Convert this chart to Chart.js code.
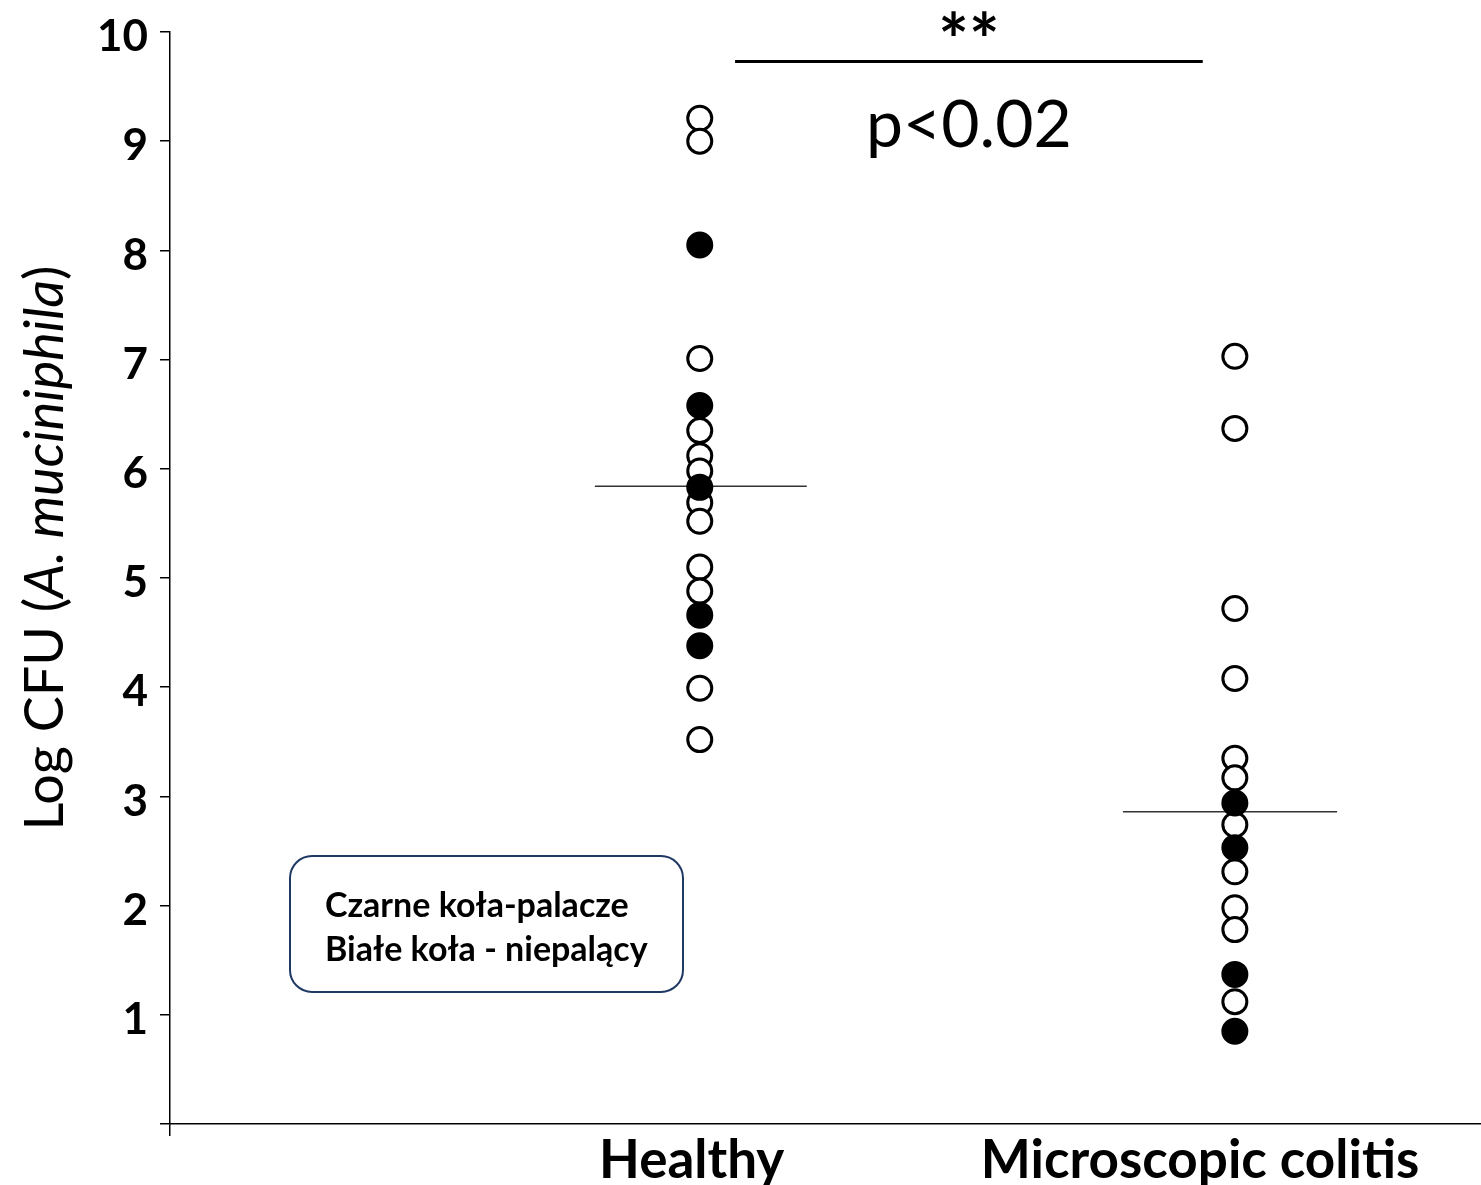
<!DOCTYPE html>
<html><head><meta charset="utf-8">
<script src="https://cdn.jsdelivr.net/npm/chart.js@4/dist/chart.umd.min.js"></script>
<style>html,body{margin:0;padding:0;background:#fff;}#wrap{width:1481px;height:1185px;position:relative;}</style>
</head><body><div id="wrap"><canvas id="c" width="1481" height="1185"></canvas></div>
<script>
// ---- data ----
const groups = ['Healthy', 'Microscopic colitis'];
const groupX = [1, 2];
const labelX = [0.985, 1.935];
const healthySmokers = [8.05, 6.58, 5.83, 4.66, 4.38];
const healthyNonSmokers = [9.21, 9.0, 7.01, 6.35, 6.12, 5.98, 5.69, 5.52, 5.10, 4.88, 3.99, 3.52];
const colitisSmokers = [2.94, 2.53, 1.37, 0.85];
const colitisNonSmokers = [7.03, 6.37, 4.72, 4.08, 3.35, 3.17, 2.74, 2.31, 1.98, 1.78, 1.12];
const medians = [5.84, 2.86];
const medianSpanHealthy = [0.804, 1.200];
const medianSpanColitis = [1.791, 2.191];
const sigBarX = [1.066, 1.94];
const sigBarY = 9.73;
const sigStars = '**';
const sigP = 'p<0.02';
const yTickValues = [0, 1, 2, 3, 4, 5, 6, 7, 8, 9, 10];
const legendLines = ['Czarne koła-palacze', 'Białe koła - niepalący'];
const yTitleParts = [['Log CFU (', 'normal'], ['A. muciniphila', 'italic'], [')', 'normal']];

const FONT = 'Lato, "Open Sans", sans-serif';
const pts = (x, arr) => arr.map(v => ({x: x, y: v}));

const pointCommon = {type: 'scatter', pointStyle: 'circle', pointRadius: 12, pointHoverRadius: 12, pointBorderWidth: 3, pointBorderColor: '#000'};

const datasets = [
  Object.assign({}, pointCommon, {label: 'H non', data: pts(groupX[0], healthyNonSmokers), pointBackgroundColor: '#fff', order: 3}),
  Object.assign({}, pointCommon, {label: 'C non', data: pts(groupX[1], colitisNonSmokers), pointBackgroundColor: '#fff', order: 3}),
  Object.assign({}, pointCommon, {label: 'H smk', data: pts(groupX[0], healthySmokers), pointBackgroundColor: '#000', order: 1}),
  Object.assign({}, pointCommon, {label: 'C smk', data: pts(groupX[1], colitisSmokers), pointBackgroundColor: '#000', order: 1}),
  {type: 'line', label: 'med H', data: medianSpanHealthy.map(x => ({x, y: medians[0]})), borderColor: '#333', borderWidth: 1.5, pointRadius: 0, order: 2},
  {type: 'line', label: 'med C', data: medianSpanColitis.map(x => ({x, y: medians[1]})), borderColor: '#333', borderWidth: 1.5, pointRadius: 0, order: 2},
  {type: 'line', label: 'sig', data: sigBarX.map(x => ({x, y: sigBarY})), borderColor: '#000', borderWidth: 3, pointRadius: 0, order: 2}
];

const extras = {
  id: 'extras',
  afterDraw(chart) {
    const ctx = chart.ctx, xs = chart.scales.x, ys = chart.scales.y, ca = chart.chartArea;
    ctx.save();
    const cx = (xs.getPixelForValue(sigBarX[0]) + xs.getPixelForValue(sigBarX[1])) / 2;
    const by = ys.getPixelForValue(sigBarY);
    ctx.fillStyle = '#000';
    ctx.textAlign = 'center';
    ctx.textBaseline = 'middle';
    ctx.font = 'bold 72px ' + FONT;
    ctx.fillText(sigStars, cx, by - 18);
    ctx.font = '66px ' + FONT;
    ctx.fillText(sigP, cx, by + 64);
    // y title with mixed styles
    const size = 54;
    let total = 0;
    yTitleParts.forEach(p => { ctx.font = p[1] + ' ' + size + 'px ' + FONT; total += ctx.measureText(p[0]).width; });
    ctx.translate(46, 548);
    ctx.rotate(-Math.PI / 2);
    ctx.textAlign = 'left';
    let pos = -total / 2;
    yTitleParts.forEach(p => { ctx.font = p[1] + ' ' + size + 'px ' + FONT; ctx.fillText(p[0], pos, 0); pos += ctx.measureText(p[0]).width; });
    ctx.setTransform(1, 0, 0, 1, 0, 0);
    // legend box
    const lx = ca.left + 120, ly = ca.bottom - 268, lw = 393, lh = 136, r = 22;
    ctx.beginPath();
    ctx.moveTo(lx + r, ly);
    ctx.arcTo(lx + lw, ly, lx + lw, ly + lh, r);
    ctx.arcTo(lx + lw, ly + lh, lx, ly + lh, r);
    ctx.arcTo(lx, ly + lh, lx, ly, r);
    ctx.arcTo(lx, ly, lx + lw, ly, r);
    ctx.closePath();
    ctx.fillStyle = '#fff';
    ctx.fill();
    ctx.strokeStyle = '#1f3864';
    ctx.lineWidth = 2;
    ctx.stroke();
    ctx.fillStyle = '#000';
    ctx.font = 'bold 34px ' + FONT;
    ctx.textAlign = 'left';
    ctx.textBaseline = 'middle';
    ctx.fillText(legendLines[0], lx + 35, ly + 50);
    ctx.fillText(legendLines[1], lx + 35, ly + 94);
    ctx.restore();
  }
};

new Chart(document.getElementById('c'), {
  data: {datasets},
  options: {
    responsive: false,
    animation: false,
    events: [],
    layout: {autoPadding: false, padding: {top: 32, right: 0, left: 0, bottom: 0}},
    plugins: {legend: {display: false}, tooltip: {enabled: false}},
    scales: {
      x: {
        type: 'linear', position: 'bottom', min: 0.01, max: 2.46,
        afterBuildTicks: a => { a.ticks = [{value: 0.01}].concat(labelX.map(v => ({value: v}))); },
        afterFit: s => { s.height = 61; s.paddingLeft = 0; s.paddingRight = 0; },
        ticks: {
          autoSkip: false, maxRotation: 0, minRotation: 0, padding: -7, color: '#000',
          font: {family: FONT, size: 53, weight: 'bold'},
          callback: (v, i) => i === 0 ? '' : groups[i - 1]
        },
        grid: {drawOnChartArea: false, drawTicks: true, tickLength: 12, lineWidth: 1.5, color: c => c.index === 0 ? '#000' : 'rgba(0,0,0,0)'},
        border: {display: true, color: '#000', width: 1.5}
      },
      y: {
        type: 'linear', min: 0, max: 10,
        afterBuildTicks: a => { a.ticks = yTickValues.map(v => ({value: v})); },
        afterFit: s => { s.width = 170; s.paddingTop = 0; s.paddingBottom = 0; },
        ticks: {
          padding: 12, color: '#000', labelOffset: 5,
          font: {family: FONT, size: 44, weight: 'bold'},
          callback: v => v === 0 ? '' : String(v)
        },
        grid: {drawOnChartArea: false, drawTicks: true, tickLength: 10, lineWidth: 1.5, color: '#000'},
        border: {display: true, color: '#000', width: 1.5}
      }
    }
  },
  plugins: [extras]
});
</script></body></html>
